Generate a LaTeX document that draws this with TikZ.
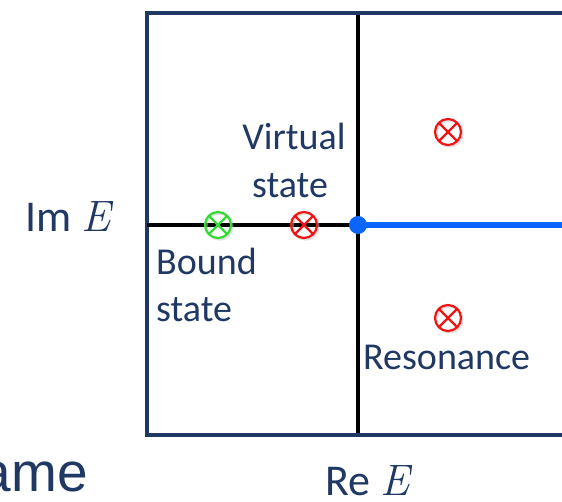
\documentclass[tikz,border=0pt]{standalone}
\usepackage{fontspec}
\setmainfont{Carlito}
\newfontfamily\arialfont{Liberation Sans}
\newfontfamily\mathitfont{Latin Modern Roman}
\newcommand{\varE}{{\mathitfont\itshape E}}
\definecolor{navy}{RGB}{31,56,100}
\definecolor{txtnavy}{RGB}{32,56,100}
\definecolor{cutblue}{RGB}{10,102,255}
\definecolor{poleRed}{RGB}{240,20,20}
\definecolor{poleGreen}{RGB}{50,220,50}
\tikzset{
  lbl/.style={inner sep=0pt, text=txtnavy, font=\fontsize{38}{44}\selectfont},
  axlbl/.style={inner sep=0pt, text=txtnavy, font=\fontsize{44}{50}\selectfont},
  polemark/.style={circle, draw=#1, line width=2.2pt, minimum size=26pt, inner sep=0pt,
    path picture={\draw[#1, line width=2.2pt]
      (path picture bounding box.north west) -- (path picture bounding box.south east)
      (path picture bounding box.north east) -- (path picture bounding box.south west);}},
  shadowmark/.style={circle, draw=black!25, line width=2.2pt, minimum size=26pt, inner sep=0pt},
}
\begin{document}
\begin{tikzpicture}[x=1pt,y=1pt]
\useasboundingbox (0,0) rectangle (562,502);
\clip (0,0) rectangle (562,502);
% coordinates
\coordinate (tl) at (147,489);
\coordinate (bl) at (147,66.5);
\coordinate (tr) at (580,489);
\coordinate (br) at (580,66.5);
\coordinate (vt) at (358,489);
\coordinate (vb) at (358,66.5);
\coordinate (hl) at (147,277);
\coordinate (origin) at (358,277);
\coordinate (hr) at (580,277);
% vertical axis
\draw[black, line width=3.5pt] (vt) -- (vb);
% frame
\draw[navy, line width=4pt] (tr) -- (tl) -- (bl) -- (br);
% real axis left of threshold
\draw[black, line width=4pt] (hl) -- (origin);
% cut
\draw[cutblue, line width=6.5pt] (origin) -- (hr);
\node[circle, fill=cutblue, minimum size=18pt, inner sep=0pt] (thr) at (origin) {};
% pole shadows
\foreach \p in {(219.5,275.5),(305.5,275.5),(449.5,368.5),(449.5,182.5)}
  \node[shadowmark, draw opacity=0.5] at \p {};
% poles
\node[polemark=poleGreen] (bound) at (218,277) {};
\node[polemark=poleRed] (virtual) at (304,277) {};
\node[polemark=poleRed] (resup) at (448,370) {};
\node[polemark=poleRed] (resdown) at (448,184) {};
% labels
\node[lbl, anchor=base] (vlab1) at (294,352) {Virtual};
\node[lbl, anchor=base] (vlab2) at (290,304) {state};
\node[lbl, anchor=base west] (blab1) at (156,227) {Bound};
\node[lbl, anchor=base west] (blab2) at (156,180) {state};
\node[lbl, anchor=base west] (rlab) at (363,132) {Resonance};
\node[axlbl, anchor=base west] (imlab) at (25,270) {Im \varE};
\node[axlbl, anchor=base west] (relab) at (325,6) {Re \varE};
\node[inner sep=0pt, text=txtnavy, font=\arialfont\fontsize{55}{60}\selectfont, anchor=base east] (cut) at (88,10) {ame};
\end{tikzpicture}
\end{document}
